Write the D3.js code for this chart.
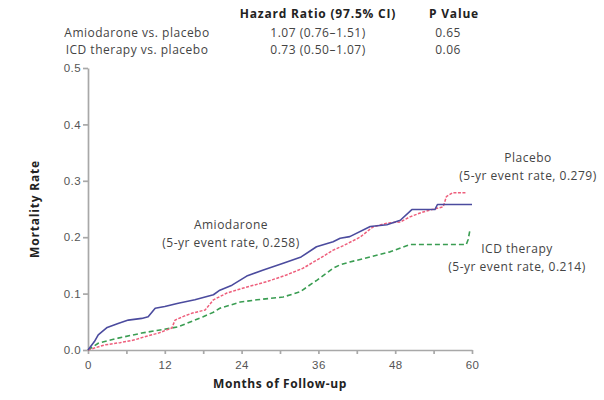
<!DOCTYPE html>
<html>
<head>
<meta charset="utf-8">
<script src="https://cdn.jsdelivr.net/npm/d3@7"></script>
<style>
  html, body { margin: 0; padding: 0; background: #fff; }
  svg { display: block; font-family: "Open Sans", "DejaVu Sans", sans-serif; }
  .axis path, .axis line { stroke: #a8a8a8; stroke-width: 1.7; }
  .axis text { fill: #555; font-size: 11.5px; letter-spacing: 0.4px; }
</style>
</head>
<body>
<div id="chart"></div>
<script>
// table above the plot
const comparisons = ["Amiodarone vs. placebo", "ICD therapy vs. placebo"];
const hazardRatios = ["1.07 (0.76\u20131.51)", "0.73 (0.50\u20131.07)"];
const pValues = ["0.65", "0.06"];

// Kaplan-Meier curves (months, cumulative mortality)
const amioMonths = [0, 1, 1.6, 3, 4.7, 6.3, 8.4, 9.4, 10.5, 12, 14.1, 16.7, 19.6, 20.6, 22.5, 24.8, 27.4, 30.5, 33.3, 35.7, 38.3, 39.4, 40.9, 44.1, 46.7, 48.8, 50.6, 54.2, 54.6, 60];
const amioRates = [0, 0.015, 0.027, 0.04, 0.047, 0.053, 0.056, 0.059, 0.074, 0.077, 0.083, 0.089, 0.098, 0.106, 0.115, 0.131, 0.142, 0.154, 0.165, 0.183, 0.192, 0.198, 0.201, 0.219, 0.222, 0.23, 0.249, 0.249, 0.258, 0.258];

const placeboMonths = [0, 2.6, 5, 7.3, 9, 11, 13.1, 13.6, 15, 16.2, 18.3, 19.6, 21.7, 24.3, 27.9, 31, 33.6, 36.3, 38.3, 39.9, 42.5, 44.5, 46.7, 48.8, 50.3, 51.9, 53.4, 55.5, 56, 57, 59.2];
const placeboRates = [0, 0.009, 0.013, 0.018, 0.024, 0.03, 0.039, 0.053, 0.06, 0.065, 0.071, 0.089, 0.101, 0.11, 0.121, 0.133, 0.145, 0.163, 0.177, 0.185, 0.2, 0.218, 0.225, 0.227, 0.236, 0.243, 0.248, 0.254, 0.272, 0.279, 0.279];

const icdMonths = [0, 1.6, 4.7, 8.4, 11, 14.1, 16.7, 18, 19.6, 20.6, 23.8, 26.4, 30.5, 33.1, 35.8, 38.3, 39.4, 40.9, 44.1, 47.2, 50.3, 59.1, 59.4, 59.7, 59.8];
const icdRates = [0, 0.012, 0.021, 0.03, 0.035, 0.041, 0.053, 0.059, 0.067, 0.074, 0.085, 0.089, 0.094, 0.103, 0.124, 0.145, 0.151, 0.156, 0.165, 0.174, 0.187, 0.187, 0.196, 0.214, 0.214];

const xTicks = [0, 12, 24, 36, 48, 60];
const xMinorTicks = [6, 18, 30, 42, 54];
const yTicks = [0, 0.1, 0.2, 0.3, 0.4, 0.5];

const width = 604;
const height = 400;

const series = [
  { name: "Amiodarone", months: amioMonths, rates: amioRates, color: "#4b4b9e", dash: null, widthPx: 1.6,
    label: ["Amiodarone", "(5-yr event rate, 0.258)"], lx: 231, ly: 229 },
  { name: "Placebo", months: placeboMonths, rates: placeboRates, color: "#ee5f7c", dash: "3,1.5", widthPx: 1.5,
    label: ["Placebo", "(5-yr event rate, 0.279)"], lx: 528, ly: 162 },
  { name: "ICD therapy", months: icdMonths, rates: icdRates, color: "#3a9d52", dash: "5,3", widthPx: 1.6,
    label: ["ICD therapy", "(5-yr event rate, 0.214)"], lx: 517, ly: 253 }
];

const svg = d3.select("#chart").append("svg")
  .attr("width", width)
  .attr("height", height);

const x = d3.scaleLinear().domain([0, 60]).range([88, 472]);
const y = d3.scaleLinear().domain([0, 0.5]).range([350, 68]);

// header table
const table = svg.append("g").attr("fill", "#444");
table.append("text")
  .attr("x", 318).attr("y", 18)
  .attr("text-anchor", "middle")
  .attr("font-size", 12).attr("font-weight", "bold")
  .attr("letter-spacing", 0.8)
  .attr("fill", "#222")
  .text("Hazard Ratio (97.5% CI)");
table.append("text")
  .attr("x", 454).attr("y", 18)
  .attr("text-anchor", "middle")
  .attr("font-size", 12).attr("font-weight", "bold")
  .attr("letter-spacing", 0.8)
  .attr("fill", "#222")
  .text("P Value");

comparisons.forEach((c, i) => {
  const ty = 37 + i * 17;
  const row = [[137, c], [318, hazardRatios[i]], [448, pValues[i]]];
  row.forEach(([tx, str]) => {
    table.append("text").attr("x", tx).attr("y", ty).attr("text-anchor", "middle")
      .attr("font-size", 12).attr("letter-spacing", 0.5).text(str);
  });
});

// axes
const xAxis = svg.append("g")
  .attr("class", "axis")
  .attr("transform", `translate(0,${y(0)})`)
  .call(d3.axisBottom(x).tickValues(xTicks).tickSize(4).tickSizeOuter(0).tickFormat(d3.format("d")));
xAxis.selectAll("text").attr("dy", "1.05em");

svg.append("g")
  .attr("class", "axis")
  .attr("transform", `translate(0,${y(0)})`)
  .call(d3.axisBottom(x).tickValues(xMinorTicks).tickSize(4).tickFormat(""))
  .call((g) => g.select(".domain").remove());

svg.append("g")
  .attr("class", "axis")
  .attr("transform", `translate(${x(0)},0)`)
  .call(d3.axisLeft(y).tickValues(yTicks).tickSize(5).tickSizeOuter(0).tickFormat(d3.format(".1f")))
  .call((g) => g.selectAll("text").attr("x", -7));

// axis titles
svg.append("text")
  .attr("transform", `translate(39,${(y(0) + y(0.5)) / 2}) rotate(-90)`)
  .attr("text-anchor", "middle")
  .attr("font-size", 12).attr("font-weight", "bold")
  .attr("letter-spacing", 0.8)
  .attr("fill", "#222")
  .text("Mortality Rate");

svg.append("text")
  .attr("x", 280).attr("y", 388)
  .attr("text-anchor", "middle")
  .attr("font-size", 12).attr("font-weight", "bold")
  .attr("letter-spacing", 0.6)
  .attr("fill", "#222")
  .text("Months of Follow-up");

// curves
const line = d3.line()
  .x((d) => x(d[0]))
  .y((d) => y(d[1]));

const curves = svg.append("g").attr("fill", "none");
series.slice().reverse().forEach((s) => {
  const pts = s.months.map((m, i) => [m, s.rates[i]]);
  curves.append("path")
    .datum(pts)
    .attr("d", line)
    .attr("stroke", s.color)
    .attr("stroke-width", s.widthPx)
    .attr("stroke-linejoin", "round")
    .attr("stroke-dasharray", s.dash);
});

// curve labels
series.forEach((s) => {
  const t = svg.append("text")
    .attr("text-anchor", "middle")
    .attr("font-size", 12)
    .attr("letter-spacing", 0.5)
    .attr("fill", "#444");
  s.label.forEach((str, i) => {
    t.append("tspan").attr("x", s.lx).attr("y", s.ly + i * 18).text(str);
  });
});
</script>
</body>
</html>
